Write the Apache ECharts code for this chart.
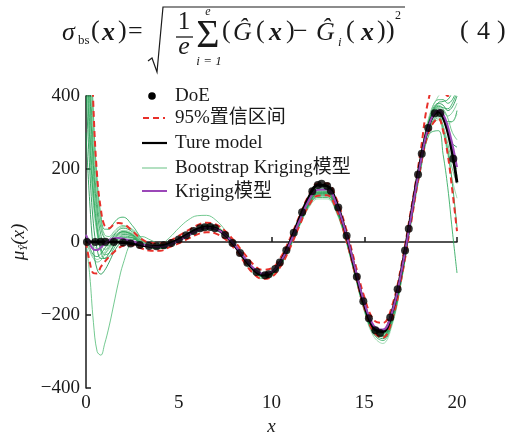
<!DOCTYPE html>
<html><head><meta charset="utf-8">
<script src="https://cdn.jsdelivr.net/npm/echarts@6/dist/echarts.min.js"></script>
<style>html,body{margin:0;padding:0;background:#fff}#c{width:530px;height:433px}</style>
</head><body><div id="c"></div>
<script>
// sample x positions shared by all curves
const xs = [0,0.2,0.4,0.6,0.8,1,1.25,1.5,1.75,2,2.5,3,3.5,4,4.5,5,5.5,6,6.5,7,7.5,8,8.5,9,9.5,10,10.5,11,11.5,12,12.5,13,13.5,14,14.5,15,15.5,16,16.5,17,17.5,18,18.5,19,19.25,19.5,19.75,20];
const trueModel = [0,0.04,0.15,0.30,0.45,0.54,0.49,0.16,-0.55,-1.66,-5.0,-8.9,-11.5,-10.5,-4.3,7.1,21.4,34.6,41.3,36.9,19.5,-9.3,-43.5,-73.8,-90.0,-83.9,-52.4,0.5,63.9,121.5,155.9,153.3,108.2,26.7,-74.6,-171.0,-235.2,-245.3,-191.7,-79.5,67.4,213.8,322.7,357.0,341.3,302.3,242.5,163.2];
const kriging = [20,-5,-20,-22,-15,-5,5,10,11,9,2,-6,-12,-14,-8,4,18,31,39,36,20,-7,-40,-70,-86,-82,-53,-3,57,113,143,144,104,27,-70,-165,-228,-240,-192,-82,62,208,322,360,350,318,268,205];
const ciUpper = [1400,700,370,180,90,45,38,48,52,50,30,8,-3,-4,3,17,32,46,53,48,30,2,-30,-60,-76,-72,-42,10,70,127,160,160,118,40,-57,-150,-213,-222,-175,-64,82,235,398,450,420,400,430,480];
const ciLower = [0,-55,-85,-86,-68,-55,-40,-28,-17,-10,-9,-18,-24,-24,-14,-4,9,21,27,23,8,-18,-53,-85,-101,-96,-66,-16,44,99,127,128,89,11,-86,-181,-246,-262,-213,-100,45,195,305,338,305,240,140,30];
const boot1 = [900,500,250,110,40,10,5,15,25,28,18,0,-13,-14,-8,4,18,31,39,35,18,-9,-42,-72,-88,-84,-55,-5,55,110,138,138,98,20,-78,-172,-236,-248,-198,-88,60,205,320,365,350,330,330,360];
const boot2 = [700,380,180,60,0,-20,-15,5,22,30,22,2,-16,-18,-12,2,20,36,46,42,23,-6,-42,-75,-93,-88,-58,-8,50,102,128,128,90,13,-85,-180,-246,-260,-210,-96,55,200,315,350,320,270,220,200];
const boot3 = [1200,650,350,170,75,35,35,52,65,68,45,10,-12,-12,-6,6,21,34,42,38,21,-7,-41,-71,-88,-82,-52,0,61,117,148,148,106,27,-71,-166,-230,-242,-192,-80,70,220,340,390,390,380,390,420];
const boot4 = [500,250,100,20,-20,-30,-20,0,15,22,15,-2,-10,-12,-7,3,15,27,34,31,15,-12,-46,-78,-96,-92,-64,-15,42,93,118,118,80,4,-94,-190,-258,-278,-228,-110,50,195,305,335,300,240,170,120];
const boot5 = [420,200,50,-20,-45,-45,-30,-8,10,20,17,0,-14,-16,-10,3,19,33,42,38,20,-8,-44,-76,-92,-87,-58,-9,49,104,132,132,93,15,-82,-177,-242,-256,-205,-92,65,215,335,380,375,360,370,400];
const boot6 = [0,-25,-45,-55,-50,-35,-15,5,18,24,16,-2,-9,-9,-3,9,24,38,47,43,25,-4,-39,-70,-87,-83,-54,-4,56,112,142,143,103,24,-74,-168,-233,-247,-198,-86,58,205,325,370,360,345,355,380];
const boot7 = [10,-15,-35,-40,-32,-18,0,18,32,38,28,3,-11,-13,-7,5,20,33,41,37,19,-8,-42,-73,-90,-86,-57,-7,52,106,134,134,95,17,-80,-175,-240,-252,-201,-90,52,198,310,345,310,250,160,40];
const boot8 = [0,-90,-220,-300,-310,-280,-230,-170,-110,-60,5,15,5,-5,12,38,60,72,73,60,32,-8,-52,-86,-100,-92,-58,-6,54,108,136,135,96,18,-80,-175,-240,-252,-202,-90,62,210,330,375,365,340,300,280];
const boot9 = [600,320,140,40,-15,-35,-30,-10,8,16,12,-4,-11,-13,-8,2,16,29,37,33,16,-11,-45,-77,-95,-91,-62,-13,45,97,122,122,84,7,-91,-186,-252,-270,-222,-106,45,185,295,305,240,150,30,-85];
const boot10 = [1000,560,290,130,50,12,0,8,20,26,20,2,-10,-11,-5,7,22,36,45,41,23,-5,-40,-71,-88,-84,-55,-5,55,110,140,141,101,22,-76,-170,-235,-249,-199,-87,66,220,345,400,410,420,440,460];
const boot11 = [300,110,-20,-75,-88,-78,-55,-28,-8,5,8,-4,-15,-17,-11,2,19,34,44,40,22,-7,-43,-76,-94,-89,-60,-10,48,100,126,126,88,11,-87,-182,-249,-265,-214,-99,57,202,318,355,335,300,270,260];
const boot12 = [20,5,-10,-18,-15,-5,8,22,35,42,35,8,-13,-13,-7,6,21,35,43,39,21,-7,-42,-72,-89,-83,-53,-1,60,115,146,146,104,25,-73,-168,-232,-244,-194,-82,60,208,328,368,348,310,250,180];
const boot13 = [800,430,210,85,20,-10,-10,8,22,28,20,0,-15,-17,-11,2,18,32,41,37,19,-9,-45,-77,-93,-88,-59,-10,48,103,131,131,92,14,-83,-178,-244,-258,-207,-94,62,212,332,382,385,390,410,440];
const boot14 = [1100,600,320,150,60,20,15,28,40,45,32,5,-12,-13,-7,5,20,34,43,39,21,-7,-41,-72,-89,-83,-53,-1,60,116,147,147,105,26,-72,-167,-231,-243,-193,-81,56,200,312,340,305,255,200,160];
const boot15 = [550,280,120,30,-25,-45,-40,-18,2,12,12,-3,-13,-15,-9,4,18,31,40,36,18,-9,-43,-74,-90,-85,-56,-6,53,108,136,136,96,18,-79,-174,-238,-250,-200,-89,60,208,326,372,368,365,380,410];
const boot16 = [5,-20,-40,-48,-42,-28,-8,12,26,32,24,0,-10,-10,-4,8,23,37,46,42,24,-5,-40,-71,-88,-84,-55,-5,55,111,141,142,102,23,-75,-169,-234,-248,-199,-87,54,200,318,360,345,325,330,350];
const doeX = [0.05,0.5,0.8,1.05,1.5,2.0,2.4,2.9,3.4,3.8,4.2,4.6,5.0,5.4,5.8,6.15,6.4,6.7,6.95,7.5,7.9,8.3,8.7,9.2,9.65,9.85,10.2,10.45,10.8,11.2,11.65,12.2,12.5,12.7,13.0,13.2,13.6,14.05,14.6,14.95,15.25,15.6,15.85,16.4,16.8,17.2,17.4,17.9,18.1,18.45,18.8,19.1,19.8];
const doeY = [0,0.2,0.5,0.6,0.2,-1.7,-4.2,-8.2,-11.2,-11.4,-8.6,-2.4,7.1,18.5,29.8,37.5,40.7,41.0,37.9,19.5,-2.9,-29.8,-56.7,-82.5,-90.8,-88.4,-74.2,-56.3,-22.7,25.6,81.8,138.9,155.9,159.8,153.3,140.4,94.7,17.1,-95.3,-162.3,-208.6,-241.9,-249.0,-207.1,-129.5,-23.4,36.6,184.6,241.5,312.2,352.9,353.5,228.2];
const xTicks = [0,5,10,15,20];
const yTicks = [-400,-200,0,200,400];
const legendNames = ['DoE','95%置信区间','Ture model','Bootstrap Kriging模型','Kriging模型'];

const SERIF = '"Liberation Serif","Noto Sans CJK SC",serif';
const pairs = ys => xs.map((x, i) => [x, ys[i]]);
const boots = [boot1,boot2,boot3,boot4,boot5,boot6,boot7,boot8,boot9,boot10,boot11,boot12,boot13,boot14,boot15,boot16];
const greenCols = ['#1e9e4e','#5cc07e','#2aa85a','#8fd3a4','#17934a','#6fc68c'];

const series = [];
boots.forEach((b, k) => series.push({
  name: legendNames[3], type: 'line', data: pairs(b), smooth: 0.4, symbol: 'none', silent: true,
  lineStyle: {color: greenCols[k % greenCols.length], width: 0.9, opacity: 0.95}, z: 1
}));
[ciUpper, ciLower].forEach(c => series.push({
  name: legendNames[1], type: 'line', data: pairs(c), smooth: 0.4, symbol: 'none', silent: true,
  lineStyle: {color: '#e8302a', width: 2, type: [6, 4]}, z: 2
}));
series.push({name: legendNames[2], type: 'line', data: pairs(trueModel), smooth: 0.4, symbol: 'none',
  lineStyle: {color: '#000', width: 2.8}, z: 3});
series.push({name: legendNames[4], type: 'line', data: pairs(kriging), smooth: 0.4, symbol: 'none',
  lineStyle: {color: '#9b47b8', width: 2}, z: 4});
series.push({name: legendNames[0], type: 'scatter', data: doeX.map((x, i) => [x, doeY[i]]),
  symbolSize: 8, itemStyle: {color: '#000'}, z: 5});

function txt(t, x, y, size, extra) {
  return Object.assign({type: 'text', x: x, y: y, z: 10, silent: true,
    style: Object.assign({text: t, fontSize: size, fontFamily: SERIF, fill: '#1a1a1a', verticalAlign: 'middle'}, extra || {})});
}
const it = {fontStyle: 'italic'};
const bi = {fontStyle: 'italic', fontWeight: 'bold'};
const F = 26;
const graphic = [
  // formula (4)
  txt('σ', 62, 33, F, it),
  txt('bs', 78, 41, 13),
  txt('(', 91, 31, F),
  txt('x', 102, 33, F, bi),
  txt(')', 118, 31, F),
  txt('=', 128, 32, F),
  {type: 'polyline', z: 10, shape: {points: [[148, 61], [152, 58], [157, 72], [163, 7], [405, 7]]}, style: {stroke: '#1a1a1a', fill: null, lineWidth: 1.2}},
  txt('1', 184, 22, 25, {align: 'center'}),
  {type: 'line', z: 10, shape: {x1: 176, y1: 37, x2: 193, y2: 37}, style: {stroke: '#1a1a1a', lineWidth: 1.3}},
  txt('e', 184, 47, F, {align: 'center', fontStyle: 'italic'}),
  txt('Σ', 208, 36, 40, {align: 'center'}),
  txt('e', 208, 12, 12, {align: 'center', fontStyle: 'italic'}),
  txt('i = 1', 209, 62, 13, {align: 'center', fontStyle: 'italic'}),
  txt('(', 222, 31, F),
  txt('Ĝ', 233, 33, F, it),
  txt('(', 256, 31, F),
  txt('x', 269, 33, F, bi),
  txt(')', 286, 31, F),
  txt('−', 293, 32, F),
  txt('Ĝ', 316, 33, F, it),
  txt('i', 338, 43, 13, it),
  txt('(', 346, 31, F),
  txt('x', 361, 33, F, bi),
  txt(')', 377, 31, F),
  txt(')', 386, 31, F),
  txt('2', 395, 16, 12),
  txt('(', 460, 31, F),
  txt('4', 477, 32, F),
  txt(')', 497, 31, F),
  // legend
  {type: 'circle', z: 10, shape: {cx: 152, cy: 96, r: 3.8}, style: {fill: '#000'}},
  txt(legendNames[0], 175, 96, 19),
  {type: 'line', z: 10, shape: {x1: 143, y1: 118, x2: 165, y2: 118}, style: {stroke: '#e8302a', lineWidth: 2, lineDash: [6, 4]}},
  txt(legendNames[1], 175, 118, 19),
  {type: 'line', z: 10, shape: {x1: 142, y1: 143, x2: 167, y2: 143}, style: {stroke: '#000', lineWidth: 2.2}},
  txt(legendNames[2], 175, 143, 19),
  {type: 'line', z: 10, shape: {x1: 142, y1: 168, x2: 167, y2: 168}, style: {stroke: '#9ad6ad', lineWidth: 1.5}},
  txt(legendNames[3], 175, 168, 19),
  {type: 'line', z: 10, shape: {x1: 142, y1: 191, x2: 167, y2: 191}, style: {stroke: '#9b47b8', lineWidth: 2}},
  txt(legendNames[4], 175, 192, 19)
];

const axisCommon = {
  axisLine: {lineStyle: {color: '#1a1a1a', width: 1.5}},
  axisTick: {inside: true, length: 5, lineStyle: {color: '#1a1a1a', width: 1.5}},
  splitLine: {show: false}
};
const chart = echarts.init(document.getElementById('c'), null, {renderer: 'canvas'});
chart.setOption({
  animation: false,
  backgroundColor: '#fff',
  grid: {left: 86, right: 73, top: 96, bottom: 45, containLabel: false, outerBoundsMode: 'none'},
  xAxis: Object.assign({type: 'value', min: xTicks[0], max: xTicks[xTicks.length - 1], interval: 5,
    axisLabel: {fontSize: 19, fontFamily: SERIF, color: '#1a1a1a', margin: 6},
    name: 'x', nameLocation: 'middle', nameGap: 24,
    nameTextStyle: {fontSize: 19, fontStyle: 'italic', fontFamily: SERIF, color: '#1a1a1a'}}, axisCommon),
  yAxis: Object.assign({type: 'value', min: yTicks[0], max: yTicks[yTicks.length - 1], interval: 200,
    axisLabel: {fontSize: 19, fontFamily: SERIF, color: '#1a1a1a', margin: 6,
      formatter: v => String(v).replace('-', '−')},
    name: '{a|μ}{b|Ŷ}{a|(x)}', nameLocation: 'middle', nameRotate: 90, nameGap: 56,
    nameTextStyle: {rich: {
      a: {fontSize: 19, fontStyle: 'italic', fontFamily: SERIF, color: '#1a1a1a'},
      b: {fontSize: 11, fontStyle: 'italic', fontFamily: SERIF, color: '#1a1a1a', padding: [10, 0, 0, 0]}
    }}}, axisCommon),
  series: series,
  graphic: graphic
});
</script></body></html>
